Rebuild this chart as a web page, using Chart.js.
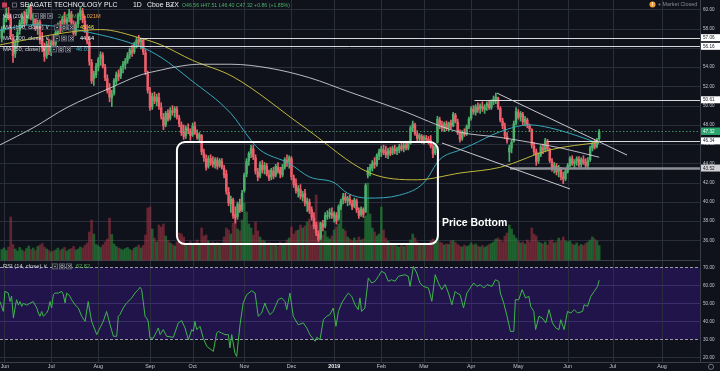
<!DOCTYPE html>
<html>
<head>
<meta charset="utf-8">
<script src="https://cdn.jsdelivr.net/npm/chart.js@4.4.1/dist/chart.umd.min.js"></script>
<style>
  html, body { margin: 0; padding: 0; background: #10121b; overflow: hidden; }
  canvas { display: block; }
</style>
</head>
<body>
<canvas id="stx" width="720" height="371"></canvas>
<script>
// daily bars, first bar is the last trading day of May 2018 (bar index -1)
const firstBar = -1;

const opens = [
  57.0, 57.9, 59.2, 59.6, 59.2, 57.0, 55.4, 56.6, 57.8, 58.5, 59.2, 58.6, 59.6, 60.2, 59.0, 59.3, 58.2, 58.7, 56.9, 56.1, 55.2, 56.2, // Jun
  55.6, 56.7, 56.4, 57.6, 58.3, 57.9, 59.0, 58.6, 59.1, 59.5, 58.5, 57.6, 58.5, 59.3, 59.8, 58.8, 57.8, 56.6, 54.5, 52.8, 53.2, // Jul
  54.0, 54.9, 55.2, 54.0, 52.8, 51.7, 50.8, 51.3, 52.5, 53.3, 53.1, 54.0, 54.3, 54.7, 55.3, 55.7, 55.6, 56.4, 56.9, 56.6, 56.8, 55.5, 53.3, // Aug
  51.4, 49.9, 50.9, 50.4, 50.8, 49.8, 48.8, 48.0, 49.2, 48.7, 49.4, 49.3, 49.6, 48.7, 48.0, 47.3, 46.9, 47.6, 47.3, // Sep
  47.0, 47.8, 47.1, 46.6, 46.9, 45.1, 44.5, 43.7, 44.5, 44.2, 43.9, 44.3, 43.8, 44.2, 43.5, 42.9, 41.0, 39.8, 40.2, 38.7, 38.5, 39.7, 39.2, // Oct
  41.2, 42.9, 44.3, 45.0, 45.5, 44.6, 43.1, 42.7, 43.8, 43.4, 43.7, 42.8, 42.6, 43.2, 42.8, 43.6, 43.3, 42.8, 43.6, 44.3, 44.2, // Nov
  44.5, 42.5, 41.9, 41.1, 41.3, 40.5, 40.9, 39.8, 40.0, 39.2, 38.3, 37.6, 36.7, 36.3, 37.7, 37.5, 38.5, 38.7, 38.8, // Dec
  38.4, 38.6, 38.3, 39.5, 40.2, 40.5, 40.1, 40.3, 39.8, 39.6, 40.1, 39.1, 38.7, 39.2, 39.0, 42.8, 43.3, 43.5, 44.1, 43.9, 44.8, // Jan
  45.2, 45.4, 45.2, 44.9, 45.3, 45.1, 45.5, 45.3, 45.4, 45.8, 45.6, 45.9, 45.6, 46.1, 47.7, 48.0, 47.0, 46.6, 46.8, // Feb
  46.5, 46.6, 46.5, 46.4, 45.8, 45.1, 46.2, 48.5, 48.0, 47.7, 48.1, 47.7, 48.2, 47.9, 49.0, 48.3, 47.2, 46.6, 47.2, 47.1, 47.8, // Mar
  48.7, 49.6, 49.3, 49.8, 49.7, 49.9, 49.6, 50.0, 50.1, 49.8, 50.4, 50.6, 50.8, 49.7, 48.4, 47.8, 46.8, 45.2, 45.6, 46.3, 48.2, // Apr
  49.3, 48.8, 49.1, 48.3, 48.5, 47.9, 47.5, 45.8, 45.2, 44.3, 44.9, 45.6, 45.4, 46.3, 45.4, 44.2, 43.6, 43.7, 43.2, 43.4, 42.6, 42.4, // May
  43.2, 43.8, 44.5, 44.0, 44.2, 44.4, 43.9, 44.4, 44.1, 43.8, 44.4, 45.6, 46.1, 45.8, 46.56 // Jun
];
const highs = [
  58.2, 59.4, 60.1, 60.2, 59.5, 57.4, 56.8, 57.9, 58.9, 59.6, 59.8, 60.0, 60.6, 60.5, 59.6, 59.5, 58.9, 58.9, 57.6, 56.5, 56.7, 56.9,
  56.8, 57.3, 57.8, 58.6, 58.8, 59.3, 59.7, 59.2, 60.0, 59.8, 58.8, 58.7, 59.6, 60.2, 60.1, 59.3, 58.4, 57.0, 54.8, 53.6, 54.4,
  55.0, 55.6, 55.5, 54.3, 53.2, 52.3, 51.6, 52.8, 53.5, 53.7, 54.1, 54.6, 54.9, 55.5, 56.0, 56.3, 56.6, 57.1, 57.3, 57.0, 57.0, 55.8, 53.6,
  51.9, 51.3, 51.4, 51.2, 51.3, 50.3, 49.2, 49.4, 49.6, 49.8, 50.0, 49.9, 49.9, 49.0, 48.3, 48.0, 47.9, 48.1, 47.6,
  48.2, 48.3, 47.5, 47.2, 47.0, 45.5, 44.9, 44.8, 44.9, 44.7, 44.6, 44.6, 44.5, 44.5, 43.8, 43.3, 41.5, 40.6, 40.4, 39.5, 40.0, 40.3, 41.2,
  43.0, 44.5, 45.2, 45.9, 45.9, 44.9, 43.5, 44.2, 44.3, 44.1, 44.0, 43.3, 43.5, 43.6, 43.9, 44.1, 43.6, 43.9, 44.6, 44.9, 44.8,
  44.7, 42.8, 42.4, 41.7, 41.8, 41.1, 41.3, 40.4, 40.3, 39.5, 38.9, 37.9, 37.0, 37.9, 38.1, 38.9, 39.1, 39.3, 39.4,
  39.0, 38.9, 39.7, 40.3, 40.9, 40.9, 40.6, 40.7, 40.2, 40.4, 40.3, 39.4, 39.5, 39.4, 41.9, 43.6, 43.9, 44.3, 44.6, 45.0, 45.5,
  45.8, 45.9, 45.8, 45.6, 45.7, 45.8, 45.9, 45.7, 46.0, 46.2, 46.1, 46.2, 46.3, 47.9, 48.4, 48.2, 47.4, 47.1, 47.0,
  46.9, 46.9, 46.8, 46.9, 46.0, 46.0, 48.9, 48.8, 48.4, 48.3, 48.4, 48.3, 48.5, 49.3, 49.2, 48.6, 47.5, 47.4, 47.6, 48.0, 48.8,
  49.9, 50.0, 50.1, 50.3, 50.2, 50.4, 50.1, 50.4, 50.5, 50.6, 51.0, 51.3, 50.9, 49.9, 48.7, 48.2, 47.2, 45.9, 46.4, 48.4, 49.8,
  49.6, 49.4, 49.3, 48.9, 48.7, 48.1, 47.6, 46.2, 45.5, 45.1, 45.9, 46.0, 46.6, 46.5, 45.6, 44.5, 44.1, 44.0, 43.8, 43.6, 43.1, 43.4,
  44.0, 44.7, 44.8, 44.4, 44.7, 44.7, 44.6, 44.8, 44.5, 44.6, 45.8, 46.3, 46.4, 46.6, 47.51
];
const lows = [
  56.6, 57.6, 58.7, 58.9, 56.9, 54.5, 55.0, 56.2, 57.4, 58.1, 58.2, 58.4, 59.0, 58.9, 58.3, 57.8, 57.4, 56.4, 55.6, 54.6, 54.9, 55.3,
  55.2, 56.0, 56.2, 57.3, 57.5, 57.7, 58.4, 57.9, 58.7, 58.3, 57.2, 57.3, 58.1, 58.9, 58.6, 57.6, 56.4, 54.2, 52.3, 52.1, 52.9,
  53.6, 54.2, 53.9, 52.6, 51.3, 50.4, 49.9, 51.1, 52.2, 52.6, 52.8, 53.4, 53.8, 54.4, 54.9, 55.1, 55.4, 56.0, 56.2, 55.9, 55.3, 53.2, 51.3,
  49.5, 49.6, 50.2, 50.0, 49.6, 48.6, 47.5, 47.8, 48.4, 48.5, 49.0, 48.8, 48.6, 47.8, 46.9, 46.5, 46.6, 47.1, 46.4,
  46.8, 47.0, 46.5, 46.2, 44.9, 44.2, 43.3, 43.5, 43.8, 43.6, 43.5, 43.4, 43.6, 43.4, 42.5, 40.8, 39.6, 38.9, 38.3, 37.8, 38.2, 38.9, 39.0,
  41.0, 42.6, 43.8, 44.6, 44.4, 42.9, 42.2, 42.5, 43.0, 42.9, 42.7, 42.2, 42.3, 42.4, 42.6, 43.0, 42.5, 42.6, 43.4, 43.7, 43.5,
  42.3, 41.5, 40.9, 40.5, 40.3, 40.1, 39.6, 39.0, 38.8, 38.1, 37.2, 36.5, 35.9, 36.1, 37.0, 37.3, 38.2, 38.3, 38.3,
  37.9, 37.7, 38.1, 39.2, 39.8, 39.9, 39.6, 39.7, 39.2, 39.4, 38.9, 38.3, 38.5, 38.4, 38.9, 42.5, 42.7, 43.2, 43.5, 43.7, 44.4,
  44.7, 44.9, 44.6, 44.5, 44.8, 44.9, 45.0, 44.9, 45.1, 45.3, 45.2, 45.4, 45.4, 46.0, 47.3, 46.9, 46.3, 46.2, 46.1,
  46.0, 46.2, 46.0, 45.6, 44.6, 44.9, 46.1, 47.6, 47.4, 47.3, 47.4, 47.4, 47.6, 47.8, 48.2, 47.0, 46.2, 46.4, 46.8, 46.9, 47.6,
  48.5, 49.1, 49.0, 49.3, 49.2, 49.4, 49.2, 49.5, 49.6, 49.6, 50.1, 50.2, 49.6, 48.3, 47.6, 46.6, 46.1, 44.2, 45.1, 46.2, 48.0,
  48.6, 48.4, 48.0, 47.9, 47.7, 47.3, 45.6, 44.9, 43.8, 44.0, 44.7, 45.0, 45.2, 45.3, 44.1, 43.2, 43.0, 42.8, 42.6, 42.3, 41.9, 42.2,
  43.0, 43.6, 43.8, 43.5, 43.8, 43.6, 43.6, 43.9, 43.5, 43.4, 44.2, 45.3, 45.5, 45.6, 46.40
];
const closes = [
  57.9, 59.1, 59.6, 59.0, 57.2, 55.2, 56.5, 57.6, 58.6, 59.3, 58.5, 59.7, 60.3, 59.1, 59.4, 58.0, 58.6, 56.8, 56.0, 55.1, 56.4, 55.7,
  56.6, 56.3, 57.6, 58.4, 57.8, 59.0, 58.7, 59.0, 59.6, 58.6, 57.5, 58.4, 59.4, 59.9, 58.9, 57.9, 56.7, 54.6, 52.6, 53.3, 54.1,
  54.8, 55.3, 54.1, 52.9, 51.6, 50.9, 51.2, 52.6, 53.2, 53.0, 53.9, 54.3, 54.6, 55.2, 55.8, 55.5, 56.4, 56.8, 56.6, 56.9, 55.6, 53.5, 51.6,
  49.8, 51.0, 50.5, 50.9, 49.9, 48.9, 47.9, 49.2, 48.6, 49.5, 49.3, 49.7, 48.8, 48.1, 47.2, 46.8, 47.7, 47.4, 46.9,
  47.9, 47.2, 46.7, 47.0, 45.2, 44.6, 43.6, 44.5, 44.1, 43.9, 44.4, 43.7, 44.3, 43.6, 42.8, 41.1, 39.9, 40.3, 38.6, 38.4, 39.8, 39.1, 40.9,
  42.8, 44.2, 45.0, 45.6, 44.7, 43.2, 42.6, 43.9, 43.3, 43.8, 42.9, 42.5, 43.3, 42.7, 43.7, 43.2, 42.9, 43.6, 44.4, 44.1, 44.6,
  42.6, 41.8, 41.2, 41.4, 40.6, 40.8, 39.9, 40.1, 39.1, 38.4, 37.5, 36.8, 36.1, 37.8, 37.4, 38.6, 38.6, 38.9, 38.6,
  38.8, 38.0, 39.5, 40.1, 40.6, 40.2, 40.4, 39.9, 39.5, 40.2, 39.2, 38.6, 39.3, 38.7, 41.7, 43.3, 43.6, 44.0, 43.9, 44.8, 45.2,
  45.5, 45.1, 44.9, 45.4, 45.0, 45.6, 45.3, 45.5, 45.8, 45.5, 45.9, 45.6, 46.1, 47.7, 48.1, 47.1, 46.6, 46.9, 46.4,
  46.7, 46.5, 46.3, 45.8, 45.0, 45.8, 48.6, 48.0, 47.7, 48.1, 47.6, 48.2, 47.9, 49.1, 48.4, 47.2, 46.5, 47.2, 47.0, 47.8, 48.6,
  49.7, 49.4, 49.9, 49.6, 50.0, 49.7, 49.9, 50.2, 49.8, 50.4, 50.7, 50.9, 49.8, 48.5, 47.9, 46.9, 46.4, 45.6, 46.2, 48.1, 49.4,
  48.8, 49.2, 48.3, 48.6, 48.0, 47.6, 45.9, 45.2, 44.2, 44.9, 45.7, 45.4, 46.4, 45.5, 44.3, 43.5, 43.8, 43.1, 43.5, 42.6, 42.4, 43.2,
  43.8, 44.5, 44.0, 44.2, 44.5, 43.9, 44.4, 44.1, 43.8, 44.3, 45.6, 46.1, 45.7, 46.46, 47.32
];
// volume, millions of shares
const volumes = [
  2.1, 2.4, 1.9, 2.6, 8.6, 3.1, 2.2, 1.8, 2.5, 2.0, 1.7, 2.3, 2.8, 2.1, 2.4, 1.9, 2.7, 3.0, 3.3, 2.6, 2.2, 1.9,
  1.6, 1.8, 2.0, 2.4, 1.9, 2.2, 2.5, 1.8, 2.1, 2.3, 2.7, 2.0, 2.2, 2.6, 2.4, 2.9, 3.4, 5.6, 8.0, 5.2, 3.1,
  2.8, 2.5, 3.0, 3.6, 4.2, 8.4, 5.1, 3.2, 2.7, 2.4, 2.2, 2.0, 2.3, 2.5, 2.1, 1.9, 2.4, 2.6, 3.0, 2.4, 2.9, 5.0, 10.4,
  10.6, 6.2, 4.4, 3.6, 7.0, 6.6, 7.2, 4.8, 3.9, 3.4, 3.1, 2.8, 3.6, 5.4, 5.2, 4.6, 3.3, 2.9, 3.7,
  3.1, 3.4, 4.0, 3.2, 6.4, 4.8, 5.0, 3.8, 3.3, 3.6, 3.0, 3.5, 2.9, 3.4, 4.6, 6.4, 6.0, 5.2, 7.4, 8.6, 6.2, 5.8, 8.0,
  11.4, 9.6, 7.2, 6.4, 5.0, 7.6, 5.8, 4.6, 4.0, 3.8, 3.2, 3.5, 2.9, 3.3, 3.0, 2.8, 3.6, 3.1, 3.4, 4.0, 4.4,
  6.6, 5.2, 5.8, 6.0, 7.0, 6.4, 6.8, 7.6, 8.2, 7.0, 8.8, 13.0, 7.6, 6.0, 5.0, 5.8, 4.6, 4.2, 4.8,
  6.0, 6.6, 7.2, 11.4, 6.2, 5.8, 4.6, 4.2, 3.8, 4.4, 3.9, 4.6, 4.0, 4.2, 8.8, 15.4, 9.2, 6.4, 5.6, 4.8, 5.2,
  10.6, 6.0, 4.4, 3.8, 3.4, 3.0, 3.2, 2.8, 2.6, 3.0, 2.7, 2.9, 3.3, 4.0, 5.2, 4.4, 3.6, 3.1, 2.9,
  3.0, 3.3, 3.1, 3.8, 4.2, 3.5, 4.6, 3.6, 3.4, 3.0, 3.2, 3.1, 3.8, 3.9, 3.5, 3.1, 2.8, 2.6, 3.0, 2.7, 2.9,
  3.4, 3.0, 3.2, 2.8, 2.6, 2.9, 2.5, 2.8, 3.1, 3.3, 3.6, 4.2, 4.4, 4.0, 3.6, 4.8, 5.4, 7.0, 6.2, 5.0, 4.4,
  3.8, 3.4, 3.6, 3.2, 4.0, 3.6, 6.4, 5.2, 4.8, 3.6, 3.4, 3.2, 3.6, 3.0, 3.8, 4.0, 3.4, 3.6, 4.4, 3.8, 4.6, 3.8,
  3.6, 3.8, 3.2, 3.0, 3.4, 2.8, 3.1, 2.9, 3.3, 3.6, 4.0, 4.6, 4.2, 3.8, 2.9
];

// moving averages at a few bars
const ma200Bar = [-2, 13, 28, 47, 61, 70, 76, 87, 101, 118, 136, 154, 176, 202, 221, 234, 248, 265];
const ma200Val = [45.9, 47.7, 49.8, 51.8, 53.2, 53.7, 54.0, 54.3, 54.3, 53.9, 52.9, 51.4, 49.6, 47.3, 46.7, 46.2, 45.6, 44.64];
const ma100Bar = [-2, 28, 43, 61, 70, 84, 102, 134, 163, 184, 203, 221, 243, 265];
const ma100Val = [56.3, 57.6, 57.9, 57.0, 56.3, 54.7, 53.0, 47.7, 43.0, 42.3, 43.0, 43.6, 45.4, 46.2];
const ma50Bar = [-2, 13, 38, 61, 70, 83, 101, 110, 114, 127, 136, 147, 153, 162, 176, 187, 194, 203, 208, 221, 234, 243, 261, 265];
const ma50Val = [57.8, 58.4, 57.6, 56.1, 55.0, 52.7, 49.2, 46.4, 45.4, 44.0, 42.6, 42.0, 40.9, 40.4, 40.7, 42.0, 44.4, 45.4, 45.9, 47.3, 48.0, 47.7, 46.4, 46.03];

// RSI(14)
const rsiBar = [
  -1.8, -0.3, 0.4, 1.9, 2.7, 3.4, 4.2, 4.9, 5.6, 6.4, 7.1, 7.9, 8.6, 10.1, 13, 14.6, 15.3, 16, 16.8, 17.5,
  19, 19.7, 20.5, 21.2, 22, 22.7, 24.2, 25.7, 26.4, 27.2, 27.9, 29.4, 30.1, 31.6, 33.1, 34.6, 36.1, 37.5, 39, 41.3,
  42.7, 44.2, 45.7, 47.2, 48.7, 50.2, 50.9, 51.6, 53.1, 54.6, 56.9, 58.3, 59.8, 60.6, 61.3, 62, 62.8, 63.5, 64.2, 65,
  66.5, 68, 68.7, 69.5, 70.9, 72.4, 75.4, 77.6, 79.1, 80.6, 82.1, 83.6, 84.3, 85, 85.8, 87.3, 88.7, 90.3, 93.2, 94.7,
  95.4, 96.9, 98.4, 99.9, 100.6, 101.4, 102.8, 103.6, 104.3, 105.1, 106.5, 108.1, 110.3, 111.8, 112.5, 113.2, 114.7, 116.2, 116.9, 118.4,
  119.9, 122.1, 123.6, 125.1, 125.9, 127.3, 128.8, 131, 133.3, 134.8, 136.2, 138.5, 139.2, 140.7, 142.2, 143.7, 145.1, 146.6, 147.8, 148.9,
  150.4, 151.8, 153.3, 154.8, 156.3, 157.7, 158.5, 159.2, 160.7, 162.2, 163.7, 165.2, 166.7, 168.1, 169.6, 171.1, 172.6, 174.1, 175.6, 178.5,
  180, 180.8, 182.3, 183.8, 185.2, 186.7, 189, 190.5, 192, 193.4, 194.9, 196.4, 197.9, 199.4, 200.9, 201.6, 203.1, 204.6, 206.1, 207.6,
  209.1, 210.6, 212.1, 213.6, 215.1, 217.3, 218.8, 220.3, 221, 222.5, 224, 225.5, 227, 227.7, 229.2, 230.7, 232.2, 233.7, 234.5, 235.9,
  236.7, 238.2, 239.7, 241.2, 242.7, 244.2, 245.7, 247.1, 247.9, 249.4, 250.9, 252.4, 253.9, 255.4, 257.6, 258.3, 259.8, 261.3, 262.8, 264.3,
  265
];
const rsiValue = [
  51, 45.5, 56.6, 55.7, 51, 54, 41.8, 47.4, 52, 49, 51, 48.3, 50, 49, 51, 47.4, 44.6, 42.8, 45.5, 42.8,
  44.6, 46.5, 51, 47.4, 54.8, 55.7, 55.7, 56.6, 54.8, 50.2, 55.7, 53.9, 52, 49.2, 47.4, 42.8, 40, 51, 40, 32.6,
  36.3, 40, 45.5, 38.2, 31.7, 31.7, 42.8, 43.7, 47.4, 50.2, 53, 55.7, 57.6, 58.9, 57.6, 51, 42.8, 41.8, 40, 30.7,
  30.7, 34.4, 36.3, 32.6, 35.4, 31.7, 31.1, 39.1, 40.4, 36.3, 29.8, 35.4, 34.4, 40, 35.4, 37.2, 30.7, 26.1, 23.3, 33.5,
  34.4, 33.5, 32.6, 32.6, 25.2, 32.6, 22.4, 20.5, 28.9, 38.1, 50.2, 54.8, 57, 55.7, 49.2, 42.8, 44.6, 50.2, 47.4, 43.7,
  45.5, 52, 53, 51, 46.5, 55.7, 42.8, 38.1, 39.1, 36.3, 32.6, 28.9, 31.1, 29.8, 40.9, 42.8, 43.7, 47.4, 37.2, 45.5,
  50.2, 53, 55.7, 53.9, 49.2, 46.5, 53, 45.5, 47.4, 64.1, 61.3, 62.2, 65, 67.8, 66.8, 62.2, 63.1, 62.2, 65, 65.9,
  65, 59.4, 70.5, 66.8, 61.3, 59.4, 58.5, 51.1, 65.9, 61.3, 57.6, 60.4, 55.7, 49.2, 56.6, 55.7, 54.8, 47.4, 55.7, 58.5,
  61.3, 59.4, 60.4, 58.5, 60.4, 59.4, 63.1, 62.2, 55.7, 50.2, 42.8, 34.4, 34.4, 52, 52, 57.6, 53, 53.9, 48.3, 45.5,
  35.4, 42.8, 41.8, 39.1, 46.5, 39.1, 36.3, 35.4, 40.9, 35.4, 45.5, 44.6, 46.5, 44.6, 45.5, 49.2, 48.3, 53.9, 56.6, 59.4,
  62.82
];

// axes
const monthBars = [0, 21, 42, 65, 84, 107, 128, 147, 168, 187, 208, 229, 251, 271, 293];
const monthNames = ['Jun', 'Jul', 'Aug', 'Sep', 'Oct', 'Nov', 'Dec', '2019', 'Feb', 'Mar', 'Apr', 'May', 'Jun', 'Jul', 'Aug'];
const priceTicks = [36, 38, 40, 42, 44, 46, 48, 50, 52, 54, 56, 58, 60];
const rsiTicks = [20, 30, 40, 50, 60, 70];

// drawings on the chart
const levelPrices = [57.06, 56.16, 50.61, 46.34, 43.52];
const levelFromBar = [60.5, -2, 209.5, 242, 225.3];
const trendFromBar = [219.5, 195];
const trendFromPrice = [51.3, 46.12];
const trendToBar = [277.4, 252];
const trendToPrice = [44.87, 41.35];
const boxBars = [77, 193.2];
const boxPrices = [46.22, 35.63];

// legend readings
const volNow = '2.887M', volAvg = '3.021M';
const ma100Now = '45.46', ma200Now = '44.64', ma50Now = '46.03', rsiNow = '62.82';

[opens, highs, lows, volumes].forEach((arr, i) => {
  if (arr.length !== closes.length) throw new Error('length mismatch ' + i + ': ' + arr.length + ' vs ' + closes.length);
});
if (rsiBar.length !== rsiValue.length) throw new Error('rsi mismatch ' + rsiBar.length + ' vs ' + rsiValue.length);

const BG = '#10121b';
const UP = '#4caf6a', DOWN = '#ef5f6b';
const FONT = '"Liberation Sans", Arial, sans-serif';

const bars = closes.map((c, k) => firstBar + k);
const candleColors = closes.map((c, k) => c >= opens[k] ? UP : DOWN);
const volColors = closes.map((c, k) => c >= opens[k] ? 'rgba(38,140,58,0.6)' : 'rgba(176,56,72,0.5)');
const last = closes.length - 1;

function seg(ctx, x1, y1, x2, y2) {
  ctx.beginPath(); ctx.moveTo(x1, y1); ctx.lineTo(x2, y2); ctx.stroke();
}
function txt(ctx, s, x, y, size, color, opts) {
  opts = opts || {};
  ctx.font = (opts.bold ? 'bold ' : '') + size + 'px ' + FONT;
  ctx.fillStyle = color;
  ctx.textAlign = opts.align || 'left';
  ctx.textBaseline = 'middle';
  ctx.fillText(s, x, y);
  return ctx.measureText(s).width;
}
function icons(ctx, x, y) {
  ctx.save();
  ctx.strokeStyle = '#6a6d78'; ctx.lineWidth = 0.8;
  for (let i = 0; i < 3; i++) {
    const bx = x + i * 7;
    ctx.fillStyle = 'rgba(30,33,44,0.9)';
    ctx.fillRect(bx, y - 3, 6, 6);
    ctx.strokeRect(bx + 0.5, y - 2.5, 5, 5);
  }
  ctx.strokeStyle = '#b2b5be';
  seg(ctx, x + 2, y, x + 4, y);
  ctx.beginPath(); ctx.arc(x + 10, y, 1.3, 0, Math.PI * 2); ctx.stroke();
  seg(ctx, x + 16, y - 1.5, x + 19, y + 1.5); seg(ctx, x + 19, y - 1.5, x + 16, y + 1.5);
  ctx.restore();
}

const overlay = {
  id: 'overlay',
  beforeDraw(chart) {
    const ctx = chart.ctx;
    ctx.save();
    ctx.fillStyle = BG;
    ctx.fillRect(0, 0, chart.width, chart.height);
    ctx.restore();
  },
  beforeDatasetsDraw(chart) {
    const { ctx, chartArea: a } = chart;
    const x = chart.scales.x, y = chart.scales.y, rsi = chart.scales.yRsi;
    ctx.save();
    const y70 = rsi.getPixelForValue(70), y30 = rsi.getPixelForValue(30);
    ctx.fillStyle = '#20144a';
    ctx.fillRect(a.left, y70, a.right - a.left, y30 - y70);

    ctx.lineWidth = 1;
    ctx.strokeStyle = '#2a2e3b';
    monthBars.forEach(b => {
      const px = Math.round(x.getPixelForValue(b)) + 0.5;
      seg(ctx, px, a.top, px, a.bottom);
    });
    priceTicks.forEach(p => {
      const py = Math.round(y.getPixelForValue(p)) + 0.5;
      seg(ctx, a.left, py, a.right, py);
    });
    // pane separator
    const sep = Math.round(y.getPixelForValue(33.92)) + 0.5;
    ctx.strokeStyle = '#3a3e4a';
    seg(ctx, a.left, sep, a.right, sep);
    // rsi grid
    ctx.strokeStyle = '#3b2f6b';
    [40, 50, 60].forEach(v => {
      const py = Math.round(rsi.getPixelForValue(v)) + 0.5;
      seg(ctx, a.left, py, a.right, py);
    });
    ctx.strokeStyle = '#2a2e3b';
    const p20 = Math.round(rsi.getPixelForValue(20)) + 0.5;
    seg(ctx, a.left, p20, a.right, p20);
    // rsi bounds
    ctx.setLineDash([3, 2]);
    ctx.strokeStyle = 'rgba(200,200,212,0.75)';
    [70, 30].forEach(v => {
      const py = Math.round(rsi.getPixelForValue(v)) + 0.5;
      seg(ctx, a.left, py, a.right, py);
    });
    ctx.restore();
  },
  afterDatasetsDraw(chart) {
    const { ctx, chartArea: a } = chart;
    const x = chart.scales.x, y = chart.scales.y, rsi = chart.scales.yRsi;
    ctx.save();
    ctx.beginPath(); ctx.rect(a.left, a.top, a.right - a.left, a.bottom - a.top); ctx.clip();

    // horizontal levels
    levelPrices.forEach((p, k) => {
      const py = Math.round(y.getPixelForValue(p)) + 0.5;
      if (k === 4) { ctx.strokeStyle = '#8d8f96'; ctx.lineWidth = 2.5; }
      else { ctx.strokeStyle = '#d8d8dc'; ctx.lineWidth = 1; }
      seg(ctx, x.getPixelForValue(levelFromBar[k]), py, a.right, py);
    });
    // trend lines
    ctx.strokeStyle = '#c9c9cf'; ctx.lineWidth = 1;
    trendFromBar.forEach((b, k) => {
      seg(ctx, x.getPixelForValue(b), y.getPixelForValue(trendFromPrice[k]),
        x.getPixelForValue(trendToBar[k]), y.getPixelForValue(trendToPrice[k]));
    });
    // current price
    const cy = Math.round(y.getPixelForValue(closes[last])) + 0.5;
    ctx.setLineDash([1.5, 2]);
    ctx.strokeStyle = 'rgba(76,175,106,0.8)';
    seg(ctx, a.left, cy, a.right, cy);
    ctx.setLineDash([]);

    // price bottom box
    const bx0 = x.getPixelForValue(boxBars[0]), bx1 = x.getPixelForValue(boxBars[1]);
    const by0 = y.getPixelForValue(boxPrices[0]), by1 = y.getPixelForValue(boxPrices[1]);
    ctx.strokeStyle = '#ffffff'; ctx.lineWidth = 2;
    ctx.beginPath(); ctx.roundRect(bx0, by0, bx1 - bx0, by1 - by0, 8); ctx.stroke();
    txt(ctx, 'Price Bottom', bx1 + 4, y.getPixelForValue(37.8), 10.5, '#ffffff', { bold: true });
    ctx.restore();

    // right price scale
    ctx.save();
    ctx.fillStyle = BG;
    ctx.fillRect(a.right, 0, chart.width - a.right, chart.height);
    ctx.fillRect(0, a.bottom, chart.width, chart.height - a.bottom);
    ctx.strokeStyle = '#3a3e4a'; ctx.lineWidth = 1;
    seg(ctx, a.right + 0.5, 0, a.right + 0.5, a.bottom);
    seg(ctx, 0, a.bottom + 0.5, chart.width, a.bottom + 0.5);
    priceTicks.forEach(p => txt(ctx, p.toFixed(2), a.right + 3, y.getPixelForValue(p), 4.6, '#c3c6ce'));
    rsiTicks.forEach(v => txt(ctx, v.toFixed(2), a.right + 3, rsi.getPixelForValue(v), 4.6, '#c3c6ce'));
    levelPrices.forEach((p, k) => {
      const py = y.getPixelForValue(p);
      ctx.fillStyle = k === 4 ? '#d0d0d4' : '#ffffff';
      ctx.fillRect(a.right + 1, py - 3.5, 19, 7);
      txt(ctx, p.toFixed(2), a.right + 3, py + 0.3, 4.6, '#131722');
    });
    ctx.fillStyle = '#26a66a';
    ctx.fillRect(a.right + 1, cy - 4, 19, 7.5);
    txt(ctx, closes[last].toFixed(2), a.right + 3, cy - 0.2, 4.6, '#ffffff');

    // time scale
    monthBars.forEach((b, k) => {
      const px = Math.max(x.getPixelForValue(b), 5);
      txt(ctx, monthNames[k], px, a.bottom + 4.8, 5.4, k === 7 ? '#eceef2' : '#c3c6ce', { align: 'center', bold: k === 7 });
    });
    ctx.strokeStyle = '#868993'; ctx.lineWidth = 0.8;
    ctx.beginPath(); ctx.arc(711, a.bottom + 4.8, 2.6, 0, Math.PI * 2); ctx.stroke();

    // header
    ctx.fillStyle = '#c2405a'; ctx.fillRect(2, 2.5, 5, 5);
    ctx.strokeStyle = '#787b86'; ctx.strokeRect(12.5, 3, 4, 4);
    txt(ctx, 'SEAGATE TECHNOLOGY PLC', 20, 5.2, 6.9, '#eceef2');
    txt(ctx, '1D', 133, 5.2, 6.9, '#eceef2');
    txt(ctx, 'Cboe BZX', 147, 5.2, 6.9, '#eceef2');
    txt(ctx, '\u25BE', 171, 5.4, 5, '#b2b5be');
    const chg = closes[last] - closes[last - 1];
    const ohlc = 'O' + opens[last].toFixed(2) + ' H' + highs[last].toFixed(2) + ' L' + lows[last].toFixed(2) +
      ' C' + closes[last].toFixed(2) + ' +' + chg.toFixed(2) + ' (+' + (chg / closes[last - 1] * 100).toFixed(2) + '%)';
    txt(ctx, ohlc, 182, 5.4, 5.2, '#4caf6a');

    ctx.fillStyle = '#f0a02a';
    ctx.beginPath(); ctx.arc(652.5, 4.5, 3, 0, Math.PI * 2); ctx.fill();
    txt(ctx, '!', 652.5, 4.7, 5, '#ffffff', { align: 'center', bold: true });
    ctx.fillStyle = '#868993';
    ctx.beginPath(); ctx.arc(659.5, 4.5, 0.9, 0, Math.PI * 2); ctx.fill();
    txt(ctx, 'Market Closed', 662.5, 4.7, 5.4, '#868993');

    // legends
    const lg = '#d1d4dc';
    txt(ctx, 'Vol (20) \u2228', 3, 16, 5.8, lg);
    icons(ctx, 33, 16);
    txt(ctx, volNow, 58, 16, 5.6, '#4caf50');
    txt(ctx, volAvg, 82, 16, 5.6, '#f5a048');
    txt(ctx, 'MA (100, close) \u2228', 3, 27.5, 5.8, lg);
    icons(ctx, 54, 27.5);
    txt(ctx, ma100Now, 80, 27.5, 5.6, '#e8e04a');
    txt(ctx, 'MA (200, close) \u2228', 3, 38.5, 5.8, lg);
    icons(ctx, 54, 38.5);
    txt(ctx, ma200Now, 80, 38.5, 5.6, '#ffffff');
    txt(ctx, 'MA (50, close) \u2228', 3, 49.5, 5.8, lg);
    icons(ctx, 51, 49.5);
    txt(ctx, ma50Now, 76, 49.5, 5.6, '#35b3c5');
    const ry = rsi.getPixelForValue(70.5);
    txt(ctx, 'RSI (14, close) \u2228', 3, ry, 5.8, lg);
    icons(ctx, 52, ry);
    txt(ctx, rsiNow, 76, ry, 5.6, '#4caf50');
    ctx.restore();
  }
};

const maLine = (barsArr, vals, color) => ({
  type: 'line',
  data: barsArr.map((b, k) => ({ x: b, y: vals[k] })),
  yAxisID: 'y',
  borderColor: color,
  borderWidth: 1,
  pointRadius: 0,
  cubicInterpolationMode: 'monotone',
  order: 3
});

new Chart(document.getElementById('stx'), {
  type: 'bar',
  data: {
    datasets: [
      {
        data: bars.map((b, k) => ({ x: b, y: volumes[k] })),
        yAxisID: 'yVol',
        backgroundColor: volColors,
        barThickness: 2,
        grouped: false,
        order: 6
      },
      {
        data: bars.map((b, k) => ({ x: b, y: [lows[k], highs[k]] })),
        yAxisID: 'y',
        backgroundColor: candleColors,
        barThickness: 1,
        grouped: false,
        order: 5
      },
      {
        data: bars.map((b, k) => ({ x: b, y: [opens[k], closes[k]] })),
        yAxisID: 'y',
        backgroundColor: candleColors,
        barThickness: 1.8,
        minBarLength: 1,
        grouped: false,
        order: 4
      },
      maLine(ma200Bar, ma200Val, 'rgba(215,215,222,0.85)'),
      maLine(ma100Bar, ma100Val, '#bdb83c'),
      maLine(ma50Bar, ma50Val, '#35a9ba'),
      {
        type: 'line',
        data: rsiBar.map((b, k) => ({ x: b, y: rsiValue[k] })),
        yAxisID: 'yRsi',
        borderColor: '#3fb54a',
        borderWidth: 1,
        pointRadius: 0,
        tension: 0,
        order: 1
      }
    ]
  },
  options: {
    responsive: false,
    animation: false,
    devicePixelRatio: 1,
    layout: { padding: { left: 0, top: 0, right: 20, bottom: 9 } },
    plugins: { legend: { display: false }, tooltip: { enabled: false } },
    scales: {
      x: { type: 'linear', axis: 'x', min: -1.78, max: 309.9, offset: false, display: false },
      y: { axis: 'y', min: 23.38, max: 60.97, display: false },
      yVol: { axis: 'y', min: -20.4, max: 52, display: false },
      yRsi: { axis: 'y', min: 17.4, max: 218.5, display: false }
    }
  },
  plugins: [overlay]
});
</script>
</body>
</html>
